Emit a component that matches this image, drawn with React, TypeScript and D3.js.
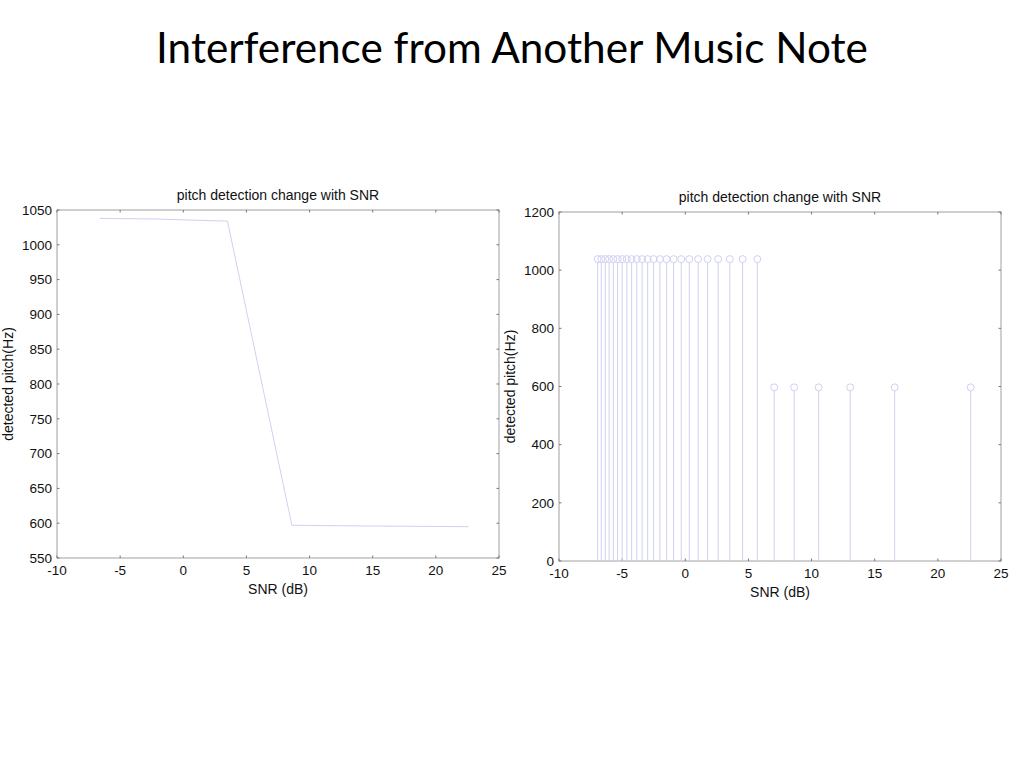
import React from "react";
import * as d3 from "d3";

const pageTitle = "Interference from Another Music Note";
const subTitle = "pitch detection change with SNR";
const xLabel = "SNR (dB)";
const yLabel = "detected pitch(Hz)";

const xTicks = [-10, -5, 0, 5, 10, 15, 20, 25];
const leftYTicks = [550, 600, 650, 700, 750, 800, 850, 900, 950, 1000, 1050];
const rightYTicks = [0, 200, 400, 600, 800, 1000, 1200];

// Left plot: line
const lineSnr = [-6.6, -2.1, 3.5, 8.6, 14.6, 22.6];
const linePitch = [1038, 1037, 1034, 597, 596, 595];

// Right plot: stems
const stemSnr = [
  22.6, 16.58, 13.06, 10.56, 8.62, 7.04, 5.7, 4.54, 3.52, 2.6, 1.77, 1.02, 0.32,
  -0.32, -0.92, -1.48, -2.01, -2.51, -2.98, -3.42, -3.84, -4.25, -4.63, -5.0,
  -5.36, -5.7, -6.03, -6.34, -6.65, -6.94,
];
const stemPitch = [
  597, 597, 597, 597, 597, 597, 1038, 1038, 1038, 1038, 1038, 1038, 1038, 1038,
  1038, 1038, 1038, 1038, 1038, 1038, 1038, 1038, 1038, 1038, 1038, 1038, 1038,
  1038, 1038, 1038,
];

const AXIS = "#a0a0a0";
const MARK = "#d0d0f2";
const FONT = "'Liberation Sans', Arial, sans-serif";
const TICK_FS = 13.5;
const LABEL_FS = 14;

type Frame = {
  x: d3.ScaleLinear<number, number>;
  y: d3.ScaleLinear<number, number>;
  yTicks: number[];
  titleY: number;
  xLabelY: number;
  yLabelX: number;
};

function Axes({ f }: { f: Frame }) {
  const [x0, x1] = f.x.range();
  const [y0, y1] = f.y.range(); // y0 bottom, y1 top
  const t = 2.5;
  return (
    <g>
      <rect x={x0} y={y1} width={x1 - x0} height={y0 - y1} fill="none" stroke={AXIS} strokeWidth={1} />
      {xTicks.map((v) => (
        <g key={"xt" + v}>
          <line x1={f.x(v)} x2={f.x(v)} y1={y0} y2={y0 - t} stroke="#777" />
          <line x1={f.x(v)} x2={f.x(v)} y1={y1} y2={y1 + t} stroke="#777" />
          <text x={f.x(v)} y={y0 + 17} textAnchor="middle" fontSize={TICK_FS} fontFamily={FONT} fill="#111">
            {v}
          </text>
        </g>
      ))}
      {f.yTicks.map((v) => (
        <g key={"yt" + v}>
          <line x1={x0} x2={x0 + t} y1={f.y(v)} y2={f.y(v)} stroke="#777" />
          <line x1={x1} x2={x1 - t} y1={f.y(v)} y2={f.y(v)} stroke="#777" />
          <text x={x0 - 5} y={f.y(v)} dy="0.35em" textAnchor="end" fontSize={TICK_FS} fontFamily={FONT} fill="#111">
            {v}
          </text>
        </g>
      ))}
      <text x={(x0 + x1) / 2} y={f.titleY} textAnchor="middle" fontSize={14} fontFamily={FONT} fill="#111">
        {subTitle}
      </text>
      <text x={(x0 + x1) / 2} y={f.xLabelY} textAnchor="middle" fontSize={LABEL_FS} fontFamily={FONT} fill="#111">
        {xLabel}
      </text>
      <text
        transform={`translate(${f.yLabelX},${(y0 + y1) / 2}) rotate(-90)`}
        textAnchor="middle"
        fontSize={LABEL_FS}
        fontFamily={FONT}
        fill="#111"
      >
        {yLabel}
      </text>
    </g>
  );
}

export default function App() {
  const left: Frame = {
    x: d3.scaleLinear().domain([-10, 25]).range([57, 499]),
    y: d3.scaleLinear().domain([550, 1050]).range([558, 210]),
    yTicks: leftYTicks,
    titleY: 200,
    xLabelY: 594,
    yLabelX: 13,
  };
  const right: Frame = {
    x: d3.scaleLinear().domain([-10, 25]).range([559, 1001]),
    y: d3.scaleLinear().domain([0, 1200]).range([561, 212]),
    yTicks: rightYTicks,
    titleY: 202,
    xLabelY: 597,
    yLabelX: 515,
  };

  const linePath = d3
    .line<number>()
    .x((_, i) => left.x(lineSnr[i]))
    .y((d) => left.y(d))(linePitch);

  return (
    <svg width={1024} height={768} style={{ position: "absolute", left: 0, top: 0, background: "#fff" }}>
      <text x={512} y={63} textAnchor="middle" fontSize={42.3} fontFamily="Lato, 'Open Sans', sans-serif" fill="#000">
        {pageTitle}
      </text>

      <Axes f={left} />
      <path d={linePath ?? ""} fill="none" stroke={MARK} strokeWidth={1} />

      <Axes f={right} />
      {stemSnr.map((s, i) => (
        <g key={"s" + i}>
          <line
            x1={right.x(s)}
            x2={right.x(s)}
            y1={right.y(0)}
            y2={right.y(stemPitch[i]) + 3.5}
            stroke={MARK}
            strokeWidth={1}
          />
          <circle cx={right.x(s)} cy={right.y(stemPitch[i])} r={3.5} fill="none" stroke={MARK} strokeWidth={1} />
        </g>
      ))}
    </svg>
  );
}
